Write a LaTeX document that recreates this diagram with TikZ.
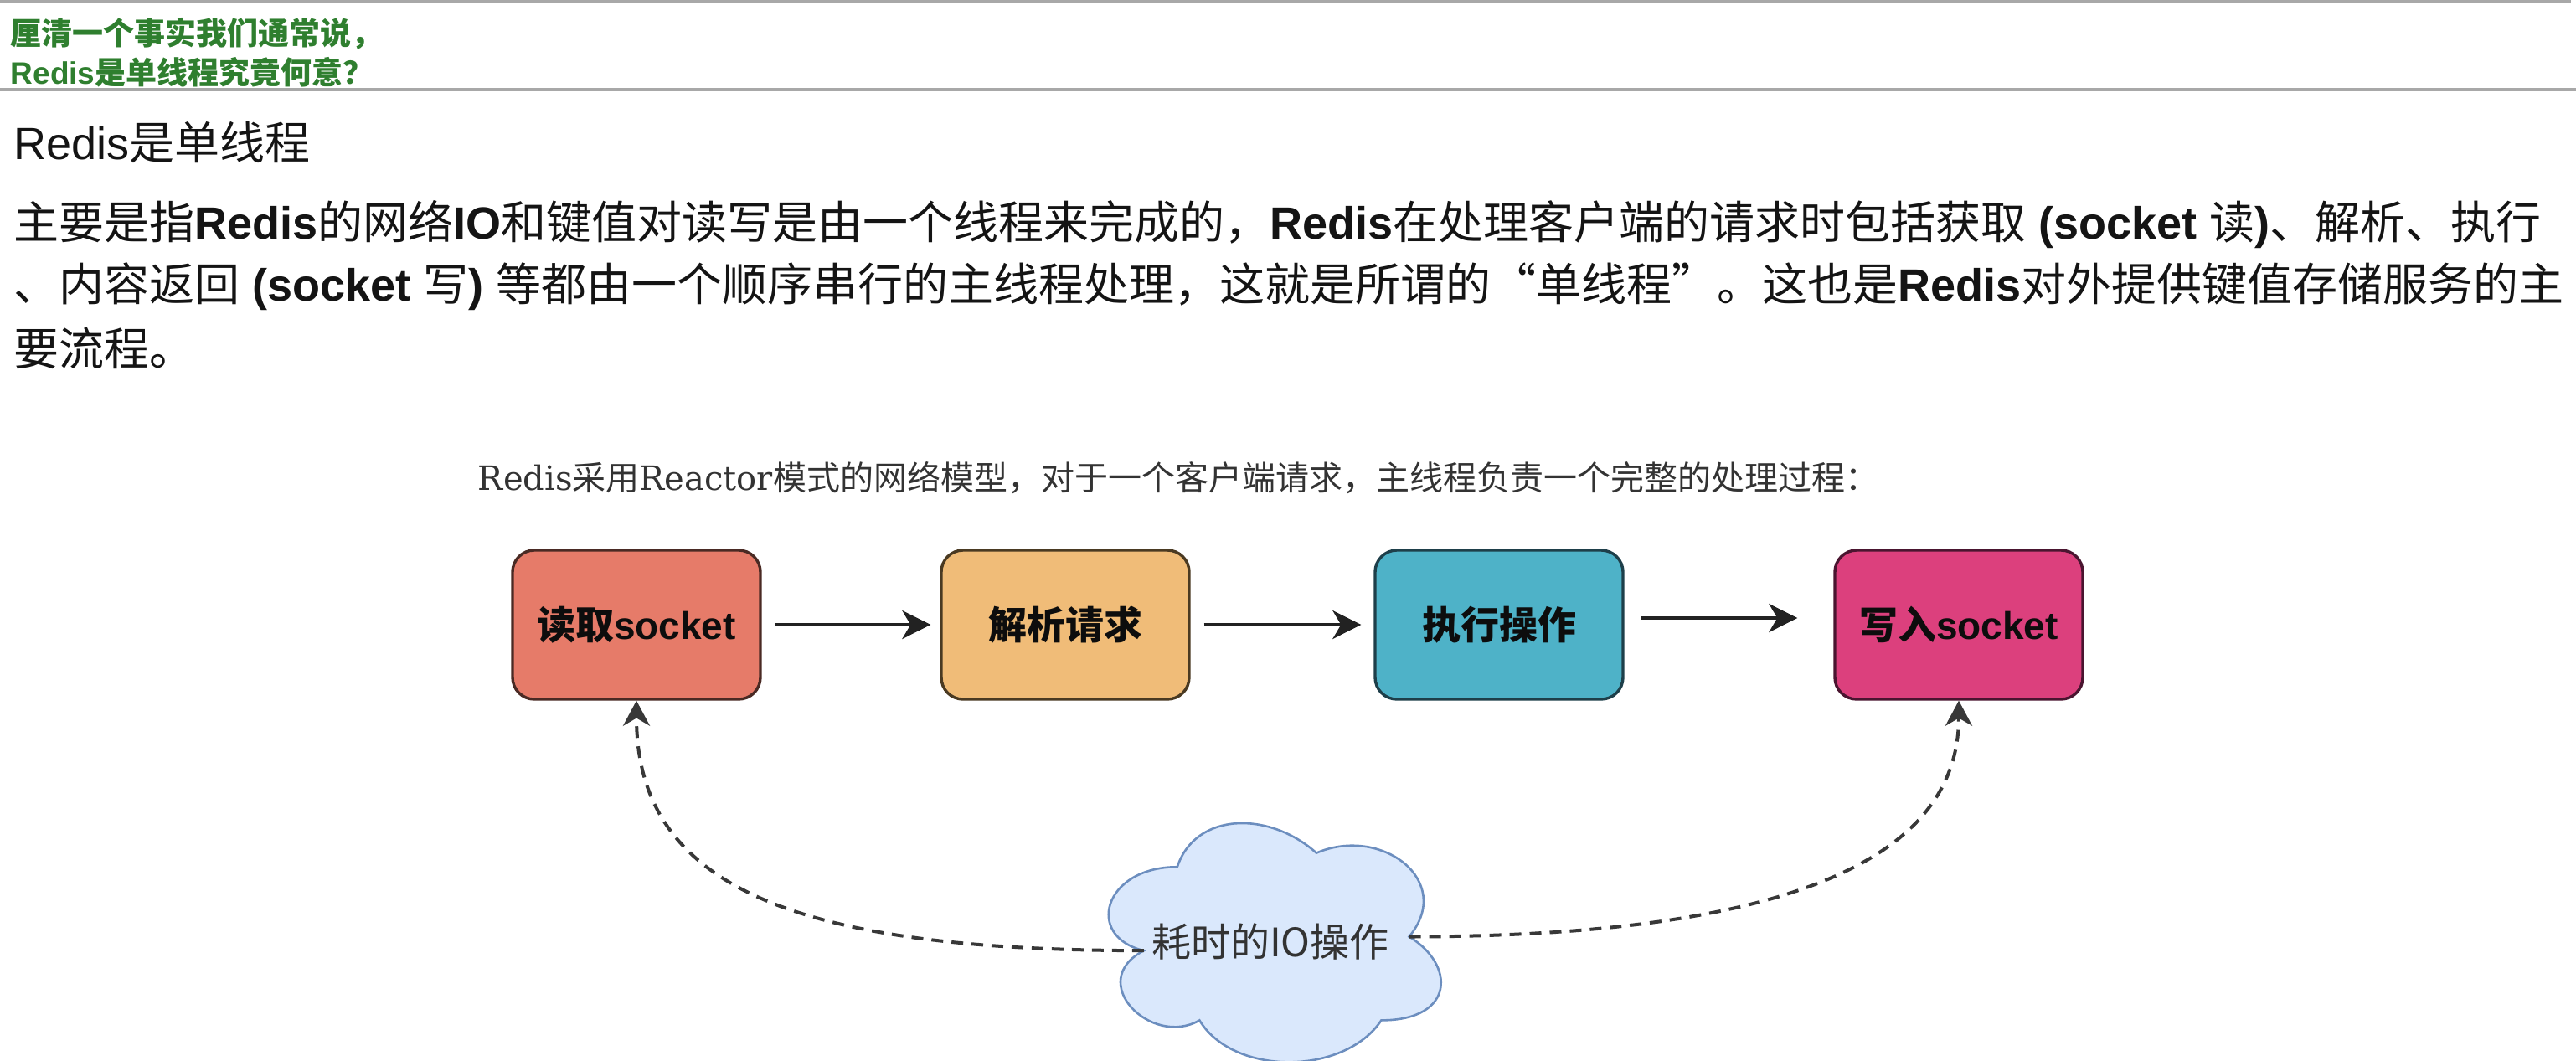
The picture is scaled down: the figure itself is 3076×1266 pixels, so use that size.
\documentclass[tikz,border=0pt]{standalone}
\usepackage{fontspec}
\setmainfont{Liberation Sans}
\newfontfamily\cjk{Noto Sans CJK SC}
\newfontfamily\capserif{DejaVu Serif}
\usetikzlibrary{arrows.meta}
\newcommand\zh[1]{{\cjk #1}}
\newcommand\sr[1]{{\capserif #1}}
\definecolor{hdrgreen}{HTML}{2F7F2F}
\definecolor{hdrline}{HTML}{A8A8A8}
\definecolor{capgray}{HTML}{333333}
\definecolor{fillA}{HTML}{E67B69}
\definecolor{drawA}{HTML}{4A2A24}
\definecolor{fillB}{HTML}{F0BC78}
\definecolor{drawB}{HTML}{4A3A22}
\definecolor{fillC}{HTML}{4EB2C8}
\definecolor{drawC}{HTML}{1E3F4A}
\definecolor{fillD}{HTML}{DC407D}
\definecolor{drawD}{HTML}{4A1530}
\definecolor{cloudfill}{HTML}{DAE8FC}
\definecolor{clouddraw}{HTML}{6C8EBF}
\definecolor{conn}{HTML}{222222}
\begin{document}
\begin{tikzpicture}[x=0.25pt,y=-0.25pt,
  hdr/.style={inner sep=0pt, anchor=west, text=hdrgreen, font=\fontsize{9.25pt}{11pt}\selectfont\bfseries},
  body/.style={inner sep=0pt, anchor=west, text=black!92, font=\fontsize{13.5pt}{16pt}\selectfont},
  captext/.style={inner sep=0pt, text=capgray, font=\fontsize{10pt}{12pt}\selectfont\cjk},
  procbox/.style={rectangle, rounded corners=6.5pt, minimum width=74pt, minimum height=44.5pt,
    inner sep=0pt, line width=0.85pt, text=black!95, font=\fontsize{11.5pt}{13pt}\selectfont\bfseries},
  flow/.style={line width=1pt, draw=conn, -{Stealth[length=8.5pt,width=8.5pt,inset=2.5pt]}},
  dashconn/.style={line width=1pt, draw=conn!90, dash pattern=on 3.5pt off 2.5pt,
    -{Stealth[length=7.5pt,width=8pt,inset=2.3pt]}},
  cloudst/.style={fill=cloudfill, draw=clouddraw, line width=0.65pt},
  iotext/.style={inner sep=0pt, text=capgray, font=\fontsize{11.75pt}{14pt}\selectfont\cjk},
  sepline/.style={draw=hdrline, line width=0.8pt}
]
\useasboundingbox (0,0) rectangle (3076,1266);
\fill[white] (0,0) rectangle (3076,1266);

% header
\draw[sepline] (0,2) -- (3070,2);
\draw[sepline] (0,107) -- (3076,107);
\node[hdr] (h1) at (12,40) {\zh{厘清一个事实我们通常说，}};
\node[hdr] (h2) at (12,86) {Redis\zh{是单线程究竟何意？}};

% body text
\node[body] (t0) at (16,170) {Redis\zh{是单线程}};
\node[body] (t1) at (16,268) {\zh{主要是指}\textbf{Redis}\zh{的网络}\textbf{IO}\zh{和键值对读写是由一个线程来完成的，}\textbf{Redis}\zh{在处理客户端的请求时包括获取} \textbf{(socket }\zh{读}\textbf{)}\zh{、解析、执行}};
\node[body] (t2) at (16,342) {\zh{、内容返回} \textbf{(socket }\zh{写}\textbf{)} \zh{等都由一个顺序串行的主线程处理，这就是所谓的“单线程”。这也是}\textbf{Redis}\zh{对外提供键值存储服务的主}};
\node[body] (t3) at (16,416) {\zh{要流程。}};

% caption
\node[captext] (captxt) at (1407,571) {\sr{Redis}采用\sr{Reactor}模式的网络模型，对于一个客户端请求，主线程负责一个完整的处理过程：};

% process boxes
\node[procbox, fill=fillA, draw=drawA] (b1) at (760,746) {\zh{读取}socket};
\node[procbox, fill=fillB, draw=drawB] (b2) at (1272,746) {\zh{解析请求}};
\node[procbox, fill=fillC, draw=drawC] (b3) at (1790,746) {\zh{执行操作}};
\node[procbox, fill=fillD, draw=drawD] (b4) at (2339,746) {\zh{写入}socket};

\draw[flow, shorten <=4pt, shorten >=2.75pt] (b1) -- (b2);
\draw[flow, shorten <=4pt, shorten >=3.75pt] (b2) -- (b3);
\draw[flow, shorten <=5pt, shorten >=10.75pt] ([yshift=2pt]b3.east) -- ([yshift=2pt]b4.west);

% cloud
\draw[cloudst] (1405.75,1035.25) .. controls (1317.15,1035.25) and (1295,1118.5) .. (1365.88,1135.15)
  .. controls (1295,1171.78) and (1374.74,1251.7) .. (1432.33,1218.4)
  .. controls (1472.2,1285) and (1605.1,1285) .. (1649.4,1218.4)
  .. controls (1738,1218.4) and (1738,1151.8) .. (1682.6,1118.5)
  .. controls (1738,1051.9) and (1649.4,985.3) .. (1571.9,1018.6)
  .. controls (1516.5,968.65) and (1427.9,968.65) .. (1405.75,1035.25) -- cycle;
\coordinate (cl) at (1365.88,1135.15);
\coordinate (cr) at (1682.6,1118.5);
\node[iotext] (io) at (1517,1125) {耗时的IO操作};

% dashed connectors
\draw[dashconn] (cl) .. controls (950,1135) and (760,1060) .. (b1.south);
\draw[dashconn] (cr) .. controls (2100,1118) and (2339,1040) .. (b4.south);
\end{tikzpicture}
\end{document}
